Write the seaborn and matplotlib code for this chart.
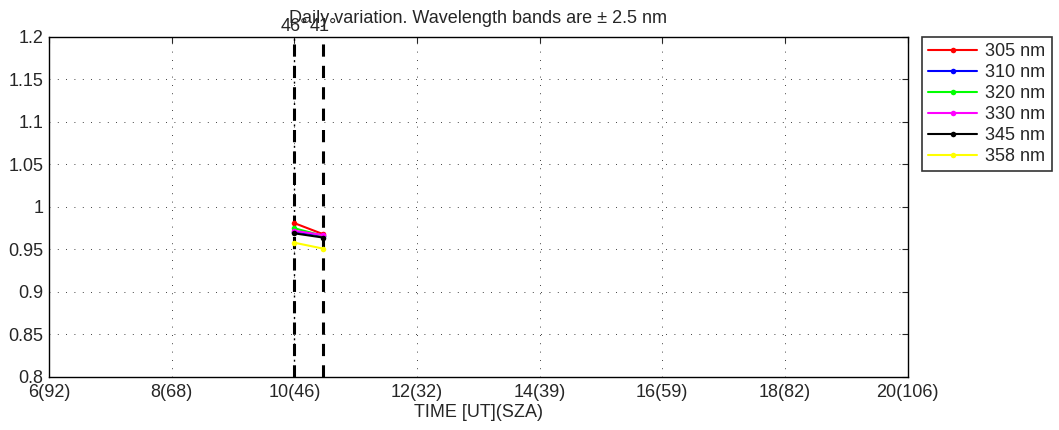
import numpy as np
import pandas as pd
import matplotlib
matplotlib.use("Agg")
import matplotlib.pyplot as plt
import seaborn as sns

# ------------------------------------------------------------
# Datos
# ------------------------------------------------------------
hours = [10.0, 10.47]
wavelengths = ["305 nm", "310 nm", "320 nm", "330 nm", "345 nm", "358 nm"]
ratio_305 = [0.981, 0.968]
ratio_310 = [0.971, 0.966]
ratio_320 = [0.975, 0.966]
ratio_330 = [0.972, 0.967]
ratio_345 = [0.969, 0.964]
ratio_358 = [0.958, 0.951]
line_colors = ["#ff0000", "#0000ff", "#00ff00", "#ff00ff", "#000000", "#ffff00"]

sza_hours = [10.0, 10.47]
sza_labels = ["46°", "41°"]

xticks = [6, 8, 10, 12, 14, 16, 18, 20]
xtick_labels = ["6(92)", "8(68)", "10(46)", "12(32)", "14(39)", "16(59)", "18(82)", "20(106)"]
yticks = [0.8, 0.85, 0.9, 0.95, 1.0, 1.05, 1.1, 1.15, 1.2]
ytick_labels = ["0.8", "0.85", "0.9", "0.95", "1", "1.05", "1.1", "1.15", "1.2"]

series = [ratio_305, ratio_310, ratio_320, ratio_330, ratio_345, ratio_358]
df = pd.DataFrame(
    {
        "hour": hours * len(wavelengths),
        "ratio": [v for s in series for v in s],
        "band": [w for w in wavelengths for _ in hours],
    }
)

sns.set_style("white")
plt.rcParams["font.family"] = ["Liberation Sans", "DejaVu Sans"]
plt.rcParams["font.size"] = 13

fig = plt.figure(figsize=(10.59, 4.30), dpi=100)
ax = fig.add_axes([0.0463, 0.1233, 0.8107, 0.7907])

ax.grid(True, linestyle=(0, (1, 9)), color="black", linewidth=0.6)
ax.set_axisbelow(True)

# Líneas verticales de SZA (gruesas, discontinuas); la primera lleva un punto fino entre trazos
lw, thin = 2.2, 1.0
dash_on, dash_off = 4 * lw, 3 * lw            # en puntos
period = dash_on + dash_off
dot = 1.4                                       # en puntos
dot_pos = dash_on + dash_off / 2 - dot / 2
for i, (h, lab) in enumerate(zip(sza_hours, sza_labels)):
    ax.axvline(h, color="black", linewidth=lw, linestyle=(0, (4, 3)), zorder=1.5)
    if i == 0:
        ax.axvline(h, color="black", linewidth=thin, zorder=1.5,
                   linestyle=((period - dot_pos) / thin, (dot / thin, (period - dot) / thin)))
    ax.text(h, 1.2025, lab, ha="center", va="bottom", fontsize=13)

sns.lineplot(
    data=df, x="hour", y="ratio", hue="band", hue_order=wavelengths,
    palette=line_colors, marker=".", markersize=8, markeredgewidth=0,
    linewidth=1.5, ax=ax, zorder=3,
)

ax.set_xlim(6, 20)
ax.set_ylim(0.8, 1.2)
ax.set_xticks(xticks)
ax.set_xticklabels(xtick_labels)
ax.set_yticks(yticks)
ax.set_yticklabels(ytick_labels)
ax.tick_params(direction="in", length=4, width=0.8, top=True, right=True, labelsize=13)
ax.tick_params(axis="x", pad=5)
ax.tick_params(axis="y", pad=4)
for sp in ax.spines.values():
    sp.set_color("black")
    sp.set_linewidth(1.0)

ax.set_xlabel("TIME [UT](SZA)", fontsize=13, labelpad=2)
ax.set_ylabel("")
ax.set_title("Daily variation. Wavelength bands are ± 2.5 nm", fontsize=13, pad=10)

leg = ax.legend(
    loc="upper left", bbox_to_anchor=(1.017, 1.0), frameon=True, fancybox=False,
    edgecolor="black", fontsize=13, handlelength=2.7, borderpad=0.35,
    labelspacing=0.22, handletextpad=0.45, borderaxespad=0.0,
)
leg.get_frame().set_linewidth(1.2)

plt.savefig("out.png", dpi=100)
plt.close()
